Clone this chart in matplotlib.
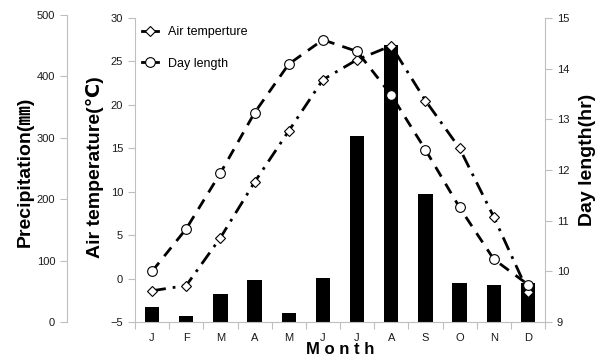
import matplotlib.pyplot as plt
import numpy as np
from matplotlib.lines import Line2D

plt.rcParams['font.family'] = ['Liberation Sans', 'DejaVu Sans', 'Noto Sans CJK KR']

# ---------------- DATA ----------------
months = ["J", "F", "M", "A", "M", "J", "J", "A", "S", "O", "N", "D"]
precip = [24, 9, 45, 68, 14, 71, 303, 451, 208, 64, 61, 64]          # mm
air_temp = [-1.4, -0.8, 4.7, 11.1, 17.0, 22.9, 25.2, 26.8, 20.5, 15.0, 7.1, -1.5]  # degC
day_length = [10.0, 10.84, 11.94, 13.13, 14.09, 14.57, 14.34, 13.48, 12.4, 11.26, 10.24, 9.74]  # hr

grey = '#bfbfbf'
txt = '#1a1a1a'
W, H = 606, 358

fig = plt.figure(figsize=(6.06, 3.58), dpi=100)

# precipitation axis (far left spine + bars)
axp = fig.add_axes([67 / W, 36 / H, (545 - 67) / W, 307 / H])
# temperature axis (plot area)
axt = fig.add_axes([135 / W, 36 / H, 410 / W, 304 / H])
axt.patch.set_visible(False)
axd = axt.twinx()

x = np.arange(len(months))

# ---------------- BARS ----------------
axp.bar(x, precip, width=0.42, color='black', zorder=1)
axp.set_xlim(11.5 - 12 * 478 / 410, 11.5)
axp.set_ylim(0, 500)
axp.set_yticks(np.arange(0, 501, 100))
axp.set_xticks([])
for s in ['top', 'right', 'bottom']:
    axp.spines[s].set_visible(False)
axp.spines['left'].set_color(grey)
axp.tick_params(axis='y', colors=grey, labelcolor=txt, labelsize=8, length=5)

# ---------------- LINES ----------------
axt.plot(x, air_temp, color='black', lw=2, linestyle=(0, (5, 2.5, 1, 2.5)),
         marker='D', markersize=5, markerfacecolor='white', markeredgecolor='black',
         markeredgewidth=0.8)
axd.plot(x, day_length, color='black', lw=2, linestyle=(0, (4, 3)),
         marker='o', markersize=7, markerfacecolor='white', markeredgecolor='black',
         markeredgewidth=0.8)

axt.set_xlim(-0.5, 11.5)
axt.set_ylim(-5, 30)
axt.set_yticks(np.arange(-5, 31, 5))
axd.set_ylim(9, 15)
axd.set_yticks(np.arange(9, 16, 1))

axt.set_xticks(np.arange(-0.5, 12, 1))
axt.set_xticklabels([])
axt.set_xticks(x, minor=True)
axt.set_xticklabels(months, minor=True)
axt.tick_params(axis='x', which='major', colors=grey, length=5)
axt.tick_params(axis='x', which='minor', length=0, labelcolor=txt, labelsize=8, pad=8)
axt.tick_params(axis='y', colors=grey, labelcolor=txt, labelsize=8, length=5)
axd.tick_params(axis='y', colors=grey, labelcolor=txt, labelsize=8, length=5)

for s in ['top', 'right']:
    axt.spines[s].set_visible(False)
for s in ['left', 'bottom']:
    axt.spines[s].set_color(grey)
for s in ['top', 'left', 'bottom']:
    axd.spines[s].set_visible(False)
axd.spines['right'].set_color(grey)

# ---------------- LEGEND ----------------
handles = [
    Line2D([], [], color='black', lw=2, marker='D', markersize=5,
           markerfacecolor='white', markeredgewidth=0.8),
    Line2D([], [], color='black', lw=2, marker='o', markersize=7,
           markerfacecolor='white', markeredgewidth=0.8),
]
axd.legend(handles, ["Air temperture", "Day length"], loc='upper left',
           bbox_to_anchor=(-0.01, 1.01), frameon=False, fontsize=9,
           handlelength=1.3, numpoints=1, labelspacing=1.55, handletextpad=0.8)

# ---------------- LABELS ----------------
fig.text(25 / W, 1 - 172 / H, "Precipitation(㎜)", rotation=90, ha='center', va='center',
         fontsize=14, fontweight='bold')
fig.text(95 / W, 1 - 167 / H, "Air temperature(℃)", rotation=90, ha='center', va='center',
         fontsize=14, fontweight='bold')
fig.text(588 / W, 1 - 160 / H, "Day length(hr)", rotation=90, ha='center', va='center',
         fontsize=14, fontweight='bold')
fig.text(340 / W, 1 / H, "M o n t h", ha='center', va='bottom',
         fontsize=12, fontweight='bold')

fig.savefig("out.png", dpi=100)
